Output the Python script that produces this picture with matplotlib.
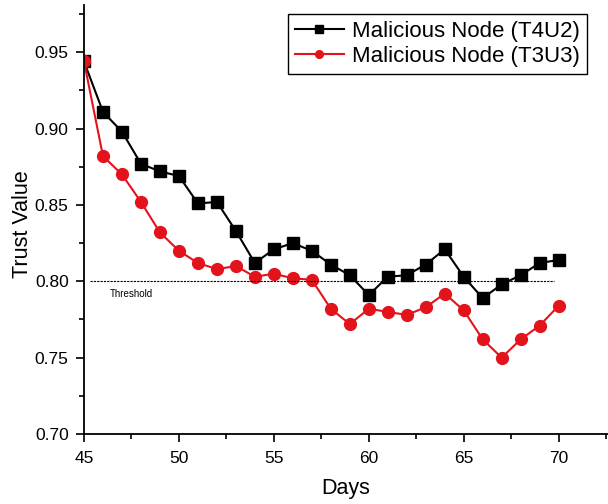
import matplotlib.pyplot as plt
from matplotlib.ticker import MultipleLocator

plt.rcParams['font.family'] = ['Liberation Sans', 'DejaVu Sans']

days = list(range(45, 71))
t4u2 = [0.944, 0.911, 0.898, 0.877, 0.872, 0.869, 0.851, 0.852, 0.833, 0.812,
        0.821, 0.825, 0.820, 0.811, 0.804, 0.791, 0.803, 0.804, 0.811, 0.821,
        0.803, 0.789, 0.798, 0.804, 0.812, 0.814]
t3u3 = [0.944, 0.882, 0.870, 0.852, 0.832, 0.820, 0.812, 0.808, 0.810, 0.803,
        0.805, 0.802, 0.801, 0.782, 0.772, 0.782, 0.780, 0.778, 0.783, 0.792,
        0.781, 0.762, 0.750, 0.762, 0.771, 0.784]
threshold = 0.80

fig = plt.figure(figsize=(6.08, 5.04), dpi=100)
ax = fig.add_axes([84 / 608, 70 / 504, 524 / 608, 429 / 504])

ax.plot(days, t4u2, color='black', marker='s', markersize=8, linewidth=1.5,
        label='Malicious Node (T4U2)')
ax.plot(days, t3u3, color='#e3131b', marker='o', markersize=8.5, linewidth=1.5,
        label='Malicious Node (T3U3)')

# dashed threshold line with its label underneath
ax.plot([45.32, 69.74], [threshold, threshold], color='black', linestyle=(0, (2, 1)),
        linewidth=0.8)
ax.text(47.5, 0.7915, 'Threshold', fontsize=7, ha='center', va='center')

ax.set_xlim(45, 72.6)
ax.set_ylim(0.70, 0.981)
ax.xaxis.set_major_locator(MultipleLocator(5))
ax.xaxis.set_minor_locator(MultipleLocator(2.5))
ax.yaxis.set_major_locator(MultipleLocator(0.05))
ax.yaxis.set_minor_locator(MultipleLocator(0.025))
ax.yaxis.set_major_formatter(plt.FormatStrFormatter('%.2f'))
ax.tick_params(which='major', direction='out', length=6, width=1.2, labelsize=12.5)
ax.tick_params(which='minor', direction='out', length=3.5, width=1.2)
ax.tick_params(axis='x', which='major', pad=6)
ax.tick_params(axis='y', which='major', pad=5)

for side in ['top', 'right']:
    ax.spines[side].set_visible(False)
for side in ['left', 'bottom']:
    ax.spines[side].set_linewidth(1.3)

ax.set_xlabel('Days', fontsize=15.5, labelpad=9)
ax.set_ylabel('Trust Value', fontsize=15.5)
ax.yaxis.set_label_coords(-0.097, 0.49)

leg = ax.legend(loc='upper right', bbox_to_anchor=(0.960, 0.979), fontsize=16,
                frameon=True, fancybox=False, edgecolor='black', framealpha=1,
                handlelength=2.2, borderpad=0.3, labelspacing=0.2, handletextpad=0.4,
                borderaxespad=0, markerscale=0.65)
leg.get_frame().set_linewidth(1.0)

fig.savefig('out.png', dpi=100)
